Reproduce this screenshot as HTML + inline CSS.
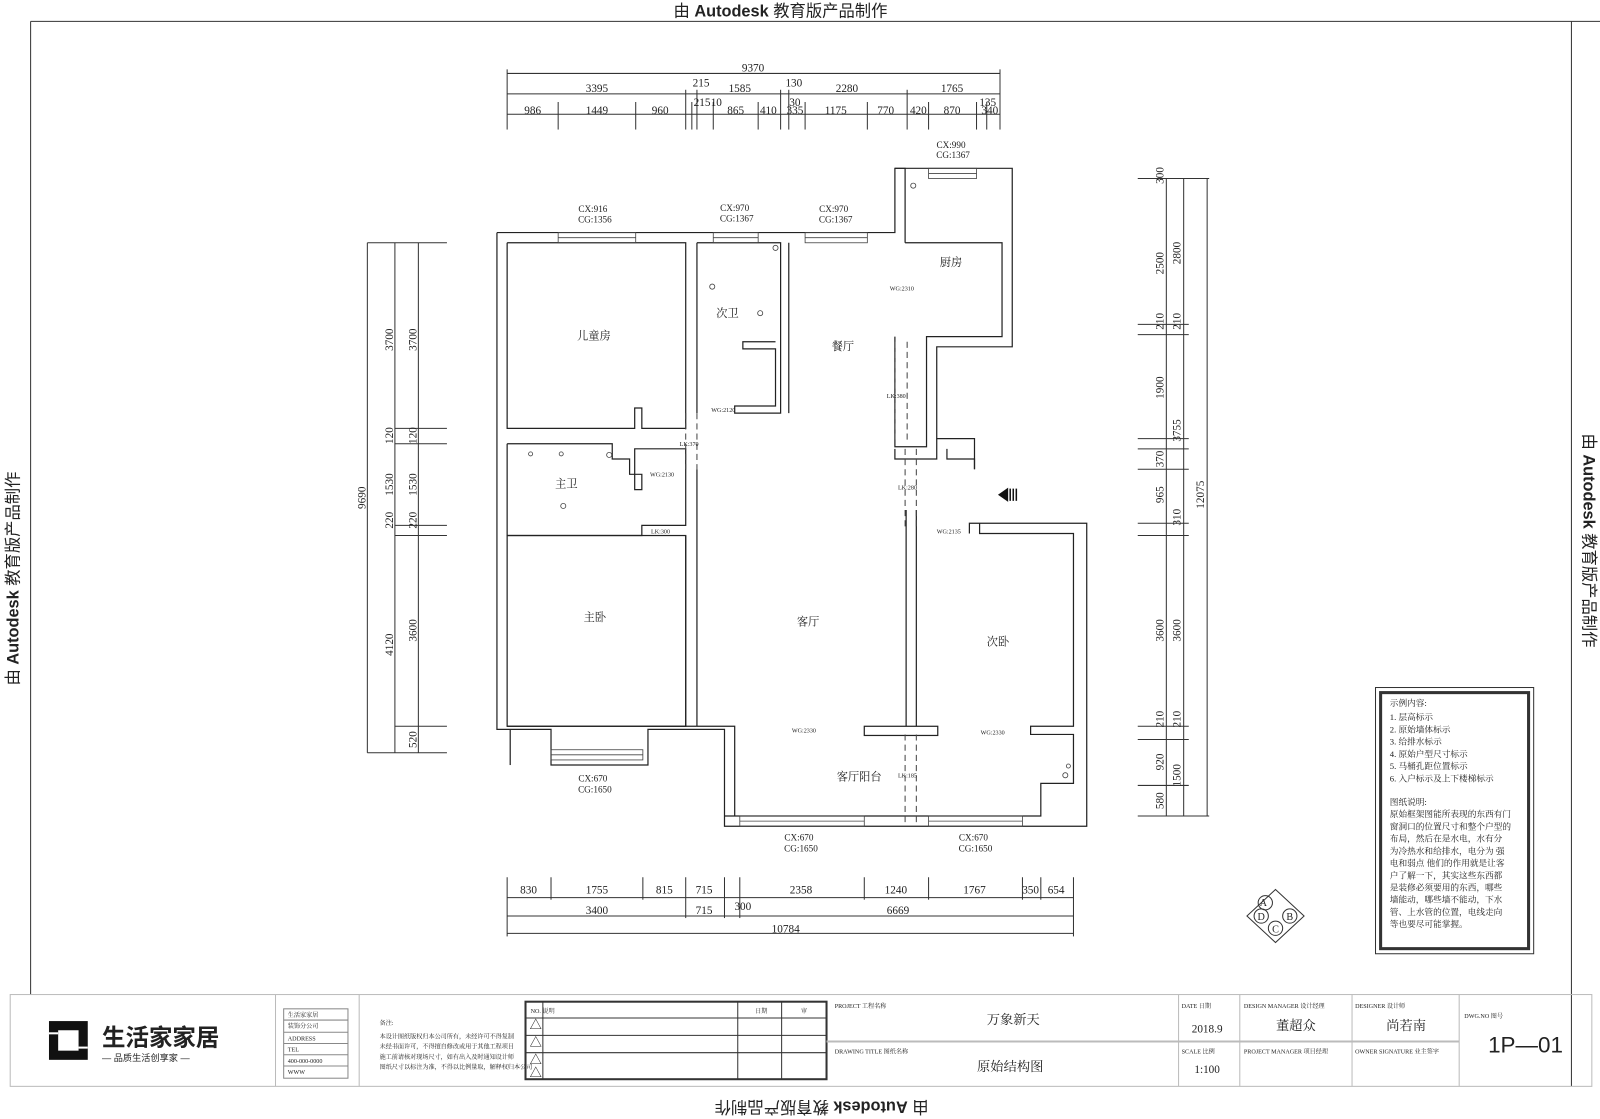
<!DOCTYPE html>
<html><head><meta charset="utf-8"><style>
html,body{margin:0;padding:0;background:#fff;width:1600px;height:1119px;overflow:hidden}
svg{display:block}
text{font-family:"Liberation Serif","Noto Serif CJK SC",serif;fill:#222}
.s{font-family:"Liberation Sans","Noto Sans CJK SC",sans-serif}
</style></head><body>
<svg width="1600" height="1119" viewBox="0 0 1568 1097" preserveAspectRatio="none" xmlns="http://www.w3.org/2000/svg">
<g stroke="#333" fill="none" stroke-width="1">
<line x1="30" y1="21" x2="1540" y2="21"/>
<line x1="30" y1="21" x2="30" y2="975"/>
<line x1="1540" y1="21" x2="1540" y2="1065"/>
<line x1="1540" y1="21" x2="1568" y2="21"/>
<rect x="10" y="975" width="1550" height="90" stroke="#bbb"/>
<line x1="270" y1="975" x2="270" y2="1065" stroke="#bbb"/>
<line x1="352" y1="975" x2="352" y2="1065" stroke="#bbb"/>
<rect x="515" y="982" width="295" height="76" stroke-width="2"/>
<line x1="515" y1="998" x2="810" y2="998"/><line x1="515" y1="1015" x2="810" y2="1015"/><line x1="515" y1="1032" x2="810" y2="1032"/>
<line x1="532" y1="982" x2="532" y2="1058"/><line x1="723" y1="982" x2="723" y2="1058"/><line x1="766" y1="982" x2="766" y2="1058"/>
<line x1="810" y1="1021" x2="1430" y2="1021" stroke="#bbb" stroke-width="2"/>
<line x1="1155" y1="975" x2="1155" y2="1065" stroke="#bbb"/>
<line x1="1215" y1="975" x2="1215" y2="1065" stroke="#bbb"/>
<line x1="1325" y1="975" x2="1325" y2="1065" stroke="#bbb"/>
<line x1="1430" y1="975" x2="1430" y2="1065" stroke="#bbb"/>
<rect x="278" y="989" width="63" height="68" stroke="#888"/>
<line x1="278" y1="1000" x2="341" y2="1000" stroke="#888"/><line x1="278" y1="1012" x2="341" y2="1012" stroke="#888"/><line x1="278" y1="1023" x2="341" y2="1023" stroke="#888"/><line x1="278" y1="1034" x2="341" y2="1034" stroke="#888"/><line x1="278" y1="1045" x2="341" y2="1045" stroke="#888"/>

<line x1="497" y1="72" x2="980" y2="72"/><line x1="497" y1="92" x2="980" y2="92"/><line x1="497" y1="112" x2="980" y2="112"/>
<line x1="497" y1="68" x2="497" y2="127"/><line x1="980" y1="68" x2="980" y2="127"/>
<line x1="672" y1="88" x2="672" y2="127"/><line x1="683" y1="88" x2="683" y2="127"/><line x1="765" y1="88" x2="765" y2="127"/><line x1="773" y1="88" x2="773" y2="127"/><line x1="889" y1="88" x2="889" y2="127"/>
<line x1="547" y1="100" x2="547" y2="127"/><line x1="623" y1="100" x2="623" y2="127"/><line x1="678" y1="100" x2="678" y2="127"/><line x1="699" y1="100" x2="699" y2="127"/><line x1="743" y1="100" x2="743" y2="127"/><line x1="789" y1="100" x2="789" y2="127"/><line x1="850" y1="100" x2="850" y2="127"/><line x1="910" y1="100" x2="910" y2="127"/><line x1="957" y1="100" x2="957" y2="127"/><line x1="967" y1="100" x2="967" y2="127"/>
<line x1="497" y1="880" x2="1052" y2="880"/><line x1="497" y1="898" x2="1052" y2="898"/><line x1="497" y1="915" x2="1052" y2="915"/>
<line x1="497" y1="860" x2="497" y2="918"/><line x1="1052" y1="860" x2="1052" y2="918"/>
<line x1="540" y1="860" x2="540" y2="882"/><line x1="630" y1="860" x2="630" y2="882"/><line x1="672" y1="860" x2="672" y2="900"/><line x1="710" y1="860" x2="710" y2="900"/><line x1="725" y1="860" x2="725" y2="900"/><line x1="847" y1="860" x2="847" y2="882"/><line x1="910" y1="860" x2="910" y2="882"/><line x1="1002" y1="860" x2="1002" y2="882"/><line x1="1020" y1="860" x2="1020" y2="882"/>
<line x1="387" y1="238" x2="387" y2="738"/><line x1="410" y1="238" x2="410" y2="738"/>
<line x1="360" y1="238" x2="438" y2="238"/><line x1="360" y1="738" x2="438" y2="738"/><line x1="360" y1="238" x2="360" y2="738"/>
<line x1="387" y1="420" x2="438" y2="420"/><line x1="387" y1="435" x2="438" y2="435"/><line x1="387" y1="515" x2="438" y2="515"/><line x1="387" y1="525" x2="438" y2="525"/><line x1="387" y1="712" x2="438" y2="712"/>
<line x1="1143" y1="175" x2="1143" y2="800"/><line x1="1160" y1="175" x2="1160" y2="800"/><line x1="1183" y1="175" x2="1183" y2="800"/>
<line x1="1115" y1="175" x2="1185" y2="175"/><line x1="1115" y1="800" x2="1185" y2="800"/>
<line x1="1115" y1="318" x2="1165" y2="318"/><line x1="1115" y1="328" x2="1165" y2="328"/><line x1="1115" y1="430" x2="1165" y2="430"/><line x1="1115" y1="440" x2="1165" y2="440"/><line x1="1115" y1="460" x2="1165" y2="460"/><line x1="1115" y1="513" x2="1165" y2="513"/><line x1="1115" y1="525" x2="1165" y2="525"/><line x1="1115" y1="712" x2="1165" y2="712"/><line x1="1115" y1="725" x2="1165" y2="725"/><line x1="1115" y1="770" x2="1165" y2="770"/>

<g stroke="#222" stroke-width="1.2">
<polyline points="487,228 877,228 877,165 992,165 992,340 918,340 918,430 955,430 955,460"/>
<polyline points="950,523 950,513 1065,513 1065,810 710,810 710,715 635,715 635,750 540,750 540,715 487,715 487,228"/>
<polyline points="497,238 672,238 672,420 629,420 629,400 622,400 622,420 497,420 497,238"/>
<polyline points="497,435 600,435 600,450 617,450 617,465 629,465 629,480 622,480 622,440 672,440 672,515 629,515 629,525 497,525 497,435"/>
<rect x="497" y="525" width="175" height="187"/>
<polyline points="683,238 765,238 765,405 720,405 720,398 760,398 760,342 728,342 728,335 760,335"/>
<polyline points="683,238 683,405"/><line x1="683" y1="460" x2="683" y2="712"/><line x1="672" y1="525" x2="672" y2="712"/>
<polyline points="773,238 773,405"/>
<polyline points="887,238 887,165 877,165"/>
<polyline points="887,238 982,238 982,330 908,330 908,438 877,438 877,330"/>
<polyline points="877,440 877,450 918,450 918,430"/>
<polyline points="928,440 928,450 955,450 955,460"/>
<line x1="888" y1="500" x2="888" y2="712"/><line x1="898" y1="500" x2="898" y2="712"/>
<polyline points="960,513 960,523 1052,523 1052,712 1010,712 1010,720 1052,720 1052,768 1020,768 1020,800 710,800"/>
<polyline points="683,712 720,712 720,800"/>
<rect x="847" y="712" width="72" height="9"/>
<polyline points="497,712 683,712"/>
<line x1="500" y1="750" x2="500" y2="715"/>
</g>
<g stroke="#444" stroke-width="0.8">
<rect x="547" y="228" width="76" height="10"/><line x1="547" y1="233" x2="623" y2="233"/>
<rect x="699" y="228" width="44" height="10"/><line x1="699" y1="233" x2="743" y2="233"/>
<rect x="789" y="228" width="61" height="10"/><line x1="789" y1="233" x2="850" y2="233"/>
<rect x="910" y="165" width="47" height="10"/><line x1="910" y1="170" x2="957" y2="170"/>
<rect x="540" y="735" width="90" height="10"/><line x1="540" y1="740" x2="630" y2="740"/>
<rect x="725" y="800" width="122" height="10"/><line x1="725" y1="805" x2="847" y2="805"/>
<rect x="910" y="800" width="92" height="10"/><line x1="910" y1="805" x2="1002" y2="805"/>
</g>
<g stroke-dasharray="6,4" stroke="#444">
<line x1="877" y1="335" x2="877" y2="435"/><line x1="889" y1="335" x2="889" y2="435"/>
<line x1="887" y1="440" x2="887" y2="520"/><line x1="898" y1="440" x2="898" y2="520"/>
<line x1="887" y1="720" x2="887" y2="810"/><line x1="898" y1="720" x2="898" y2="810"/>
<line x1="672" y1="405" x2="672" y2="460"/><line x1="683" y1="405" x2="683" y2="460"/>
</g>
<g stroke="#444" stroke-width="0.8">
<circle cx="895" cy="182" r="2.5"/><circle cx="760" cy="243" r="2.5"/><circle cx="698" cy="281" r="2.5"/><circle cx="745" cy="307" r="2.5"/><circle cx="597" cy="446" r="2.5"/><circle cx="520" cy="445" r="2"/><circle cx="550" cy="445" r="2"/><circle cx="552" cy="496" r="2.5"/><circle cx="1044" cy="760" r="2.5"/><circle cx="1047" cy="751" r="2"/>
</g>
<rect x="1348" y="674" width="155" height="261"/>
<rect x="1353" y="679" width="145" height="251" stroke-width="3"/>
<polygon points="1250,872 1278,898 1250,924 1222,898"/>
<circle cx="1240" cy="885" r="7"/><circle cx="1264" cy="898" r="7"/><circle cx="1250" cy="910" r="7"/><circle cx="1236" cy="898" r="7"/>
</g>
<polygon points="978,485 988,478 988,492" fill="#111"/>
<g stroke="#111" stroke-width="1.5"><line x1="990" y1="479" x2="990" y2="491"/><line x1="993" y1="479" x2="993" y2="491"/><line x1="996" y1="479" x2="996" y2="491"/></g>

<rect x="48" y="1001" width="38" height="38" fill="#111"/>
<rect x="57" y="1010" width="20" height="20" fill="#fff"/>
<rect x="48" y="1012" width="9" height="2" fill="#fff"/><rect x="77" y="1026" width="9" height="2" fill="#fff"/>
<text class="s" x="100" y="1025" font-size="23" font-weight="bold" fill="#111">生活家家居</text>
<text class="s" x="100" y="1040" font-size="9">— 品质生活创享家 —</text>

<g class="s" font-size="16">
<text class="s" x="660" y="16">由 <tspan font-weight="bold">Autodesk</tspan> 教育版产品制作</text>
<text class="s" transform="translate(910,1080) rotate(180)">由 <tspan font-weight="bold">Autodesk</tspan> 教育版产品制作</text>
<text class="s" transform="translate(18,672) rotate(-90)">由 <tspan font-weight="bold">Autodesk</tspan> 教育版产品制作</text>
<text class="s" transform="translate(1552,425) rotate(90)">由 <tspan font-weight="bold">Autodesk</tspan> 教育版产品制作</text>
</g>
<g font-size="11" text-anchor="middle">
<text x="738" y="70">9370</text>
<text x="585" y="90">3395</text><text x="687" y="85">215</text><text x="725" y="90">1585</text><text x="778" y="85">130</text><text x="830" y="90">2280</text><text x="933" y="90">1765</text>
<text x="522" y="112">986</text><text x="585" y="112">1449</text><text x="647" y="112">960</text><text x="688" y="104">215</text><text x="702" y="104">10</text><text x="721" y="112">865</text><text x="753" y="112">410</text><text x="779" y="104">30</text><text x="779" y="112">335</text><text x="819" y="112">1175</text><text x="868" y="112">770</text><text x="900" y="112">420</text><text x="933" y="112">870</text><text x="968" y="104">135</text><text x="970" y="112">340</text>
<text x="518" y="876">830</text><text x="585" y="876">1755</text><text x="651" y="876">815</text><text x="690" y="876">715</text><text x="785" y="876">2358</text><text x="878" y="876">1240</text><text x="955" y="876">1767</text><text x="1010" y="876">350</text><text x="1035" y="876">654</text>
<text x="585" y="896">3400</text><text x="690" y="896">715</text><text x="728" y="892">300</text><text x="880" y="896">6669</text>
<text x="770" y="914">10784</text>
<text x="581" y="208" font-size="9">CX:916</text><text x="583" y="218" font-size="9">CG:1356</text>
<text x="720" y="207" font-size="9">CX:970</text><text x="722" y="217" font-size="9">CG:1367</text>
<text x="817" y="208" font-size="9">CX:970</text><text x="819" y="218" font-size="9">CG:1367</text>
<text x="932" y="145" font-size="9">CX:990</text><text x="934" y="155" font-size="9">CG:1367</text>
<text x="581" y="766" font-size="9">CX:670</text><text x="583" y="777" font-size="9">CG:1650</text>
<text x="783" y="824" font-size="9">CX:670</text><text x="785" y="835" font-size="9">CG:1650</text>
<text x="954" y="824" font-size="9">CX:670</text><text x="956" y="835" font-size="9">CG:1650</text>
</g>
<g font-size="11" text-anchor="middle">
<text transform="translate(358,488) rotate(-90)">9690</text>
<text transform="translate(385,333) rotate(-90)">3700</text><text transform="translate(408,333) rotate(-90)">3700</text>
<text transform="translate(385,427) rotate(-90)">120</text><text transform="translate(408,427) rotate(-90)">120</text>
<text transform="translate(385,475) rotate(-90)">1530</text><text transform="translate(408,475) rotate(-90)">1530</text>
<text transform="translate(385,510) rotate(-90)">220</text><text transform="translate(408,510) rotate(-90)">220</text>
<text transform="translate(385,632) rotate(-90)">4120</text><text transform="translate(408,618) rotate(-90)">3600</text>
<text transform="translate(408,725) rotate(-90)">520</text>
<text transform="translate(1140,172) rotate(-90)">300</text>
<text transform="translate(1140,258) rotate(-90)">2500</text><text transform="translate(1157,248) rotate(-90)">2800</text>
<text transform="translate(1140,315) rotate(-90)">210</text><text transform="translate(1157,315) rotate(-90)">210</text>
<text transform="translate(1140,380) rotate(-90)">1900</text><text transform="translate(1157,422) rotate(-90)">3755</text>
<text transform="translate(1140,450) rotate(-90)">370</text><text transform="translate(1140,485) rotate(-90)">965</text>
<text transform="translate(1157,507) rotate(-90)">310</text><text transform="translate(1180,485) rotate(-90)">12075</text>
<text transform="translate(1140,618) rotate(-90)">3600</text><text transform="translate(1157,618) rotate(-90)">3600</text>
<text transform="translate(1140,705) rotate(-90)">210</text><text transform="translate(1157,705) rotate(-90)">210</text>
<text transform="translate(1140,747) rotate(-90)">920</text><text transform="translate(1157,760) rotate(-90)">1500</text>
<text transform="translate(1140,785) rotate(-90)">580</text>
</g>
<g font-size="11" text-anchor="middle">
<text x="582" y="333">儿童房</text><text x="713" y="311">次卫</text><text x="826" y="343">餐厅</text><text x="932" y="261">厨房</text>
<text x="555" y="478">主卫</text><text x="583" y="609">主卧</text><text x="792" y="613">客厅</text><text x="978" y="633">次卧</text><text x="842" y="765">客厅阳台</text>
</g>
<g font-size="6" fill="#444">
<text x="872" y="285">WG:2310</text><text x="697" y="404">WG:2120</text><text x="666" y="437">LK:370</text><text x="637" y="467">WG:2130</text><text x="638" y="523">LK:300</text>
<text x="869" y="390">LK:380</text><text x="880" y="480">LK:280</text><text x="918" y="523">WG:2135</text><text x="776" y="718">WG:2330</text><text x="961" y="720">WG:2330</text><text x="880" y="762">LK:185</text>
</g>
<g font-size="8.5" fill="#222">
<text x="1362" y="692">示例内容:</text><text x="1362" y="706">1. 层高标示</text><text x="1362" y="718">2. 原始墙体标示</text><text x="1362" y="730">3. 给排水标示</text><text x="1362" y="742">4. 原始户型尺寸标示</text><text x="1362" y="754">5. 马桶孔距位置标示</text><text x="1362" y="766">6. 入户标示及上下楼梯标示</text>
<text x="1362" y="789">图纸说明:</text>
<text x="1362" y="801">原始框架图能所表现的东西有门</text><text x="1362" y="813">窗洞口的位置尺寸和整个户型的</text><text x="1362" y="825">布局，然后在是水电，水有分</text><text x="1362" y="837">为冷热水和给排水，电分为 强</text><text x="1362" y="849">电和弱点 他们的作用就是让客</text><text x="1362" y="861">户了解一下，其实这些东西都</text><text x="1362" y="873">是装修必须要用的东西，哪些</text><text x="1362" y="885">墙能动，哪些墙不能动，下水</text><text x="1362" y="897">管、上水管的位置，电线走向</text><text x="1362" y="909">等也要尽可能掌握。</text>
</g>
<g font-size="10" text-anchor="middle">
<text x="1238" y="888">A</text><text x="1264" y="902">B</text><text x="1250" y="914">C</text><text x="1236" y="902">D</text>
</g>
<g font-size="6" fill="#555" class="s">
<text x="818" y="988">PROJECT 工程名称</text><text x="818" y="1033">DRAWING TITLE 图纸名称</text>
<text x="1158" y="988">DATE 日期</text><text x="1158" y="1033">SCALE 比例</text>
<text x="1219" y="988">DESIGN MANAGER 设计经理</text><text x="1219" y="1033">PROJECT MANAGER 项目经理</text>
<text x="1328" y="988">DESIGNER 设计师</text><text x="1328" y="1033">OWNER SIGNATURE 业主签字</text>
<text x="1435" y="998">DWG.NO 图号</text>
<text x="520" y="993">NO. 说明</text><text x="740" y="993">日期</text><text x="785" y="993">审</text>
<text x="372" y="1005">备注:</text>
<text x="372" y="1018">本设计图纸版权归本公司所有，未经许可不得复制</text><text x="372" y="1028">未经书面许可，不得擅自修改或用于其他工程项目</text><text x="372" y="1038">施工前请核对现场尺寸，如有出入及时通知设计师</text><text x="372" y="1048">图纸尺寸以标注为准，不得以比例量取，解释权归本公司</text>
<text x="282" y="997">生活家家居</text><text x="282" y="1008">装饰分公司</text><text x="282" y="1020">ADDRESS</text><text x="282" y="1031">TEL</text><text x="282" y="1042">400-000-0000</text><text x="282" y="1053">WWW</text>
</g>
<g fill="#777" font-size="12" class="s" text-anchor="middle">
<text x="525" y="1009">△</text><text x="525" y="1026">△</text><text x="525" y="1043">△</text><text x="525" y="1056">△</text>
</g>
<g font-size="13" text-anchor="middle">
<text x="993" y="1004">万象新天</text><text x="990" y="1050">原始结构图</text>
<text x="1183" y="1012" font-size="11">2018.9</text><text x="1183" y="1052" font-size="11">1:100</text>
<text x="1270" y="1010">董超众</text><text x="1378" y="1010">尚若南</text>
</g>
<text class="s" x="1495" y="1032" font-size="22" text-anchor="middle" fill="#c8c8c8">1P—01</text>
</svg>
</body></html>
